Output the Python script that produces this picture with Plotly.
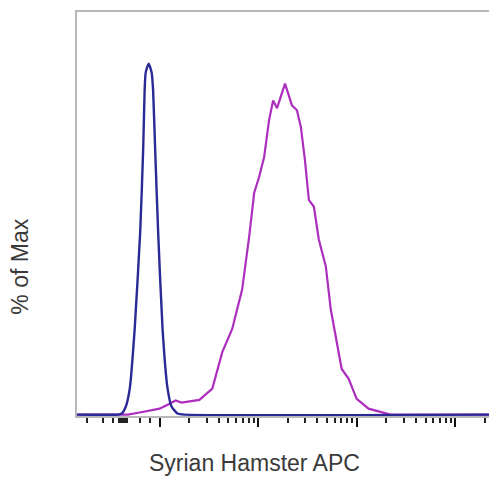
import numpy as np
import plotly.graph_objects as go

# x in display units (1 unit = 1 decade), y in % of max
blue_x = [1.16, 1.576, 1.616, 1.657, 1.697, 1.747, 1.803, 1.833, 1.848, 1.859, 1.889,
          1.919, 1.934, 1.955, 1.985, 2.030, 2.081, 2.121, 2.182, 2.253, 5.40]
blue_y = [0, 0, 0.3, 2.3, 7.4, 24.4, 52.1, 75.4, 92.4, 97.5, 100,
          97.5, 92.4, 75.4, 52.1, 24.4, 7.4, 2.3, 0.3, 0, 0]

mag_x = [1.16, 1.677, 1.798, 1.899, 2.000, 2.101, 2.162, 2.222, 2.303, 2.404, 2.535,
         2.636, 2.737, 2.838, 2.909, 2.960, 3.010, 3.061, 3.111, 3.152, 3.192, 3.273,
         3.343, 3.394, 3.434, 3.475, 3.515, 3.566, 3.616, 3.687, 3.737, 3.788, 3.848,
         3.919, 4.000, 4.121, 4.293, 4.343, 5.40]
mag_y = [0, 0, 0.6, 1.1, 1.7, 3.1, 4.0, 3.4, 3.7, 4.2, 7.4,
         17.8, 24.4, 35.7, 50.7, 63.2, 67.7, 73.4, 83.9, 89.5, 87.3, 94.3,
         88.1, 86.7, 81.9, 72.5, 61.2, 59.2, 49.9, 42.2, 30.0, 22.4, 13.0,
         10.2, 4.5, 1.7, 0.3, 0, 0]

major_ticks = [2, 3, 4, 5]
biexp_minor = [1.263, 1.424, 1.525, 1.586, 1.606, 1.626, 1.646, 1.667, 1.798, 1.899]
minor_ticks = biexp_minor + [d + np.log10(k) for d in (2, 3, 4) for k in range(2, 10)] + [5 + np.log10(2)]

x_title = "Syrian Hamster APC"
y_title = "% of Max"

fig = go.Figure()
fig.add_trace(go.Scatter(x=mag_x, y=mag_y, mode="lines",
                         line=dict(color="#ad2ebe", width=2.2), hoverinfo="skip"))
fig.add_trace(go.Scatter(x=blue_x, y=blue_y, mode="lines", line_shape="spline",
                         line=dict(color="#2a2a96", width=2.4, smoothing=0.5), hoverinfo="skip"))

# page body has an 8px margin, so the figure is sized/offset to compensate
fig.update_layout(
    width=489, height=471,
    margin=dict(l=69, r=2, t=3, b=63),
    paper_bgcolor="white", plot_bgcolor="white",
    showlegend=False,
    font=dict(family="Liberation Sans, Arial, sans-serif", color="#3a3a3a"),
    xaxis=dict(range=[1.1616, 5.3838], showgrid=False, zeroline=False,
               showline=True, linecolor="#b8b8b8", linewidth=2, mirror=True,
               tickmode="array", tickvals=major_ticks, showticklabels=False,
               ticks="outside", ticklen=9, tickwidth=2, tickcolor="#111",
               minor=dict(tickmode="array", tickvals=minor_ticks, ticks="outside",
                          ticklen=5, tickwidth=1.5, tickcolor="#222")),
    yaxis=dict(range=[-0.4, 114.7], showgrid=False, zeroline=False,
               showline=True, linecolor="#b8b8b8", linewidth=2, mirror=True,
               showticklabels=False, ticks=""),
    annotations=[
        dict(text=x_title, xref="paper", yref="paper", x=0.426, y=-0.116,
             xanchor="center", yanchor="middle", showarrow=False,
             font=dict(size=23, color="#3a3a3a")),
        dict(text=y_title, xref="paper", yref="paper", x=-0.139, y=0.37,
             xanchor="center", yanchor="middle", showarrow=False, textangle=-90,
             font=dict(size=23, color="#3a3a3a")),
    ],
)

fig.write_html("out.html")
